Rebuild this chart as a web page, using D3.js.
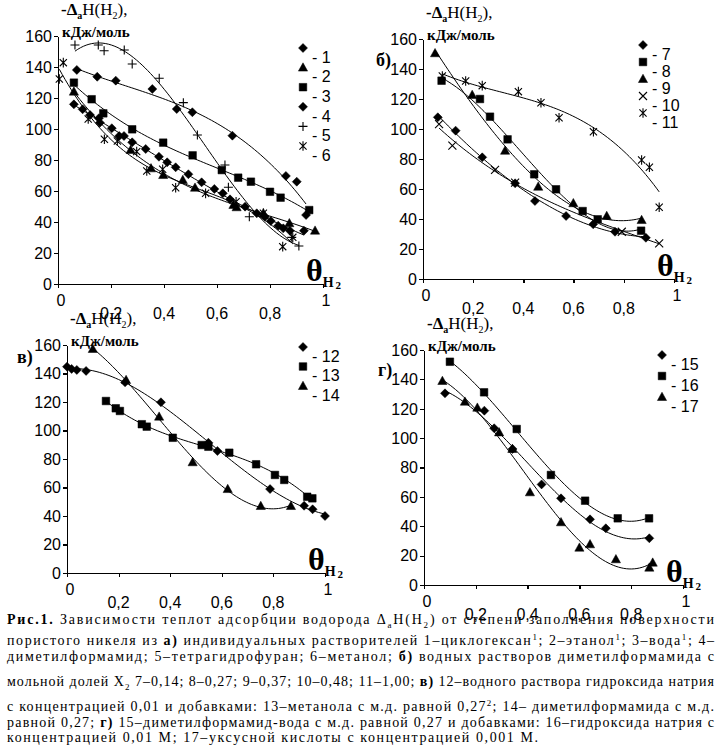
<!DOCTYPE html>
<html lang="ru">
<head>
<meta charset="UTF-8">
<title>Рис.1</title>
<script src="https://d3js.org/d3.v7.min.js"></script>
<style>
  body { margin: 0; background: #fff; }
  svg { display: block; }
  .tick-lbl { font-family: "Liberation Sans Narrow", "Liberation Sans", Arial, sans-serif; font-size: 16px; fill: #000; }
  .serif { font-family: "Liberation Serif", "Times New Roman", serif; fill: #000; }
  .trend { fill: none; stroke: #000; stroke-width: 1; }
  .axis line, .axis path { stroke: #000; stroke-width: 1.2; shape-rendering: crispEdges; }
</style>
</head>
<body>
<svg width="721" height="755" viewBox="0 0 721 755"></svg>
<script>
// ---- data: [theta, -dH kJ/mol] ----
const xTicks = [0, 0.2, 0.4, 0.6, 0.8, 1];
const xTickLabels = ["0", "0,2", "0,4", "0,6", "0,8", "1"];
const yTicks = [0, 20, 40, 60, 80, 100, 120, 140, 160];

// panel a
const s1 = [[0.060,115.9],[0.093,112.7],[0.121,109.0],[0.154,106.9],[0.158,104.1],[0.203,100.5],[0.231,95.5],[0.249,95.5],[0.280,91.4],[0.331,87.1],[0.381,82.1],[0.412,78.5],[0.444,75.3],[0.492,70.8],[0.542,65.6],[0.590,61.3],[0.622,58.5],[0.649,54.6],[0.706,49.9],[0.750,45.6],[0.781,43.4],[0.803,40.6],[0.831,37.6],[0.850,35.9],[0.875,34.4],[0.928,34.4]];
const s2 = [[0.060,124.1],[0.274,86.5],[0.351,74.6],[0.397,70.3],[0.471,67.1],[0.517,62.1],[0.662,51.0],[0.674,49.5],[0.775,45.6],[0.873,39.2],[0.970,34.4]];
const s3 = [[0.060,129.9],[0.127,119.2],[0.171,110.1],[0.280,99.8],[0.397,91.2],[0.508,83.0],[0.618,73.5],[0.680,68.6],[0.728,66.0],[0.800,59.5],[0.840,55.7],[0.948,47.7]];
const s4 = [[0.071,138.1],[0.148,133.7],[0.218,131.2],[0.356,125.8],[0.448,112.9],[0.507,110.8],[0.658,95.7],[0.860,69.7],[0.901,66.0],[0.936,44.5]];
const s5 = [[0.064,154.2],[0.152,154.2],[0.174,150.5],[0.250,151.0],[0.280,141.9],[0.382,132.7],[0.473,117.0],[0.526,96.1],[0.630,76.8],[0.643,62.4],[0.722,43.4],[0.882,30.1],[0.909,24.5]];
const s6 = [[0.020,142.8],[0.005,132.3],[0.114,106.5],[0.175,93.4],[0.224,92.3],[0.297,85.4],[0.335,72.9],[0.395,74.0],[0.444,62.1],[0.557,58.5],[0.672,53.1],[0.775,45.6],[0.848,24.1],[0.886,30.1]];
// panel b
const s7 = [[0.059,107.8],[0.130,98.9],[0.236,81.1],[0.367,63.8],[0.446,52.0],[0.570,42.0],[0.678,36.5],[0.765,31.5],[0.888,27.5]];
const s8 = [[0.074,132.2],[0.227,120.0],[0.267,108.2],[0.337,93.1],[0.443,69.8],[0.530,59.8],[0.636,45.3],[0.696,39.8],[0.869,32.2]];
const s9 = [[0.048,150.5],[0.196,122.7],[0.327,85.5],[0.459,61.5],[0.599,50.5],[0.732,42.0],[0.871,39.3]];
const s10 = [[0.064,103.3],[0.117,88.9],[0.287,72.7],[0.367,64.2],[0.792,31.5],[0.941,23.8]];
const s11 = [[0.077,135.3],[0.170,132.0],[0.236,128.9],[0.380,124.9],[0.470,117.5],[0.542,107.5],[0.679,98.2],[0.871,79.3],[0.902,74.5],[0.941,47.8]];
// panel c
const s12 = [[0.000,144.8],[0.018,143.2],[0.038,142.5],[0.074,141.8],[0.225,133.8],[0.364,119.8],[0.548,91.4],[0.583,85.6],[0.787,58.9],[0.919,47.2],[0.952,44.7],[1.000,40.0]];
const s13 = [[0.151,120.7],[0.189,115.6],[0.205,113.7],[0.290,104.4],[0.309,102.7],[0.410,94.9],[0.522,89.8],[0.548,88.6],[0.629,84.4],[0.733,76.3],[0.806,68.8],[0.842,65.3],[0.931,53.5],[0.951,52.4]];
const s14 = [[0.100,157.2],[0.229,135.4],[0.357,109.7],[0.487,77.7],[0.623,58.9],[0.751,47.0],[0.868,47.0]];
// panel d
const s15 = [[0.081,130.5],[0.233,118.7],[0.271,106.7],[0.342,92.6],[0.454,68.5],[0.529,59.0],[0.641,44.7],[0.702,38.6],[0.870,31.8]];
const s16 = [[0.100,152.0],[0.232,131.2],[0.358,106.2],[0.490,74.9],[0.622,57.4],[0.748,45.4],[0.869,45.4]];
const s17 = [[0.071,138.9],[0.158,124.8],[0.206,120.7],[0.290,103.9],[0.341,92.6],[0.409,63.1],[0.529,42.7],[0.600,25.4],[0.641,27.7],[0.741,17.5],[0.870,11.8],[0.883,15.2]];

const captionLines = [
  [["Рис.1.","b"],[" Зависимости теплот адсорбции водорода Δ"],["a","sub"],["H(H"],["2","sub"],[") от степени заполнения поверхности"]],
  [["пористого никеля из "],["а)","b"],[" индивидуальных растворителей 1–циклогексан"],["1","sup"],["; 2–этанол"],["1","sup"],["; 3–вода"],["1","sup"],["; 4–"]],
  [["диметилформамид; 5–тетрагидрофуран; 6–метанол; "],["б)","b"],[" водных растворов диметилформамида с"]],
  [["мольной долей X"],["2","sub"],[" 7–0,14; 8–0,27; 9–0,37; 10–0,48; 11–1,00; "],["в)","b"],[" 12–водного раствора гидроксида натрия"]],
  [["с концентрацией 0,01 и добавками: 13–метанола с м.д. равной 0,27"],["2","sup"],["; 14– диметилформамида с м.д."]],
  [["равной 0,27; "],["г)","b"],[" 15–диметилформамид-вода с м.д. равной 0,27 и добавками: 16–гидроксида натрия с"]],
  [["концентрацией 0,01 М; 17–уксусной кислоты с концентрацией 0,001 М."]]
];

// ---- layout ----
const svg = d3.select("svg");
svg.append("rect").attr("width", 721).attr("height", 755).attr("fill", "#fff");

const panels = [
  {letter: null, x0: 58,  x1: 323, y0: 284, y1: 36,  series: [[s1,"diamond","1"],[s2,"triangle","2"],[s3,"square","3"],[s4,"diamond","4"],[s5,"plus","5"],[s6,"star","6"]], leg: {x: 303, y: 48, step: 19.6}},
  {letter: "б)", lx: 376, ly: 66, x0: 423, x1: 674, y0: 279, y1: 39, series: [[s7,"diamond","7"],[s8,"square","8"],[s9,"triangle","9"],[s10,"cross","10"],[s11,"star","11"]], leg: {x: 643, y: 45, step: 17}},
  {letter: "в)", lx: 17, ly: 363, x0: 67, x1: 325, y0: 573, y1: 345, series: [[s12,"diamond","12"],[s13,"square","13"],[s14,"triangle","14"]], leg: {x: 303, y: 347, step: 19.5}},
  {letter: "г)", lx: 378, ly: 376, x0: 424, x1: 683, y0: 585, y1: 350, series: [[s15,"diamond","15"],[s16,"square","16"],[s17,"triangle","17"]], leg: {x: 662, y: 355, step: 21}}
];

function markerPath(type) {
  switch (type) {
    case "diamond": return "M0,-4.5L4.5,0L0,4.5L-4.5,0Z";
    case "square": return "M-3.8,-3.8H3.8V3.8H-3.8Z";
    case "triangle": return "M0,-4.8L4.6,3.5H-4.6Z";
    case "plus": return "M-4.5,0H4.5M0,-4.5V4.5";
    case "cross": return "M-4,-4L4,4M-4,4L4,-4";
    case "star": return "M-3.6,-3.6L3.6,3.6M-3.6,3.6L3.6,-3.6M0,-4.8V4.8";
  }
}
function drawMarker(g, type, x, y) {
  const filled = ["diamond","square","triangle"].includes(type);
  g.append("path").attr("d", markerPath(type))
    .attr("transform", `translate(${x},${y})`)
    .attr("fill", filled ? "#000" : "none")
    .attr("stroke", "#000").attr("stroke-width", filled ? 0.5 : 1.1);
}

// least squares cubic (like spreadsheet polynomial trendline)
function polyfit(pts, deg) {
  const n = deg + 1;
  const A = Array.from({length: n}, () => new Array(n + 1).fill(0));
  pts.forEach(([x, y]) => {
    for (let i = 0; i < n; i++) {
      for (let j = 0; j < n; j++) A[i][j] += Math.pow(x, i + j);
      A[i][n] += y * Math.pow(x, i);
    }
  });
  for (let i = 0; i < n; i++) {
    let p = i;
    for (let k = i + 1; k < n; k++) if (Math.abs(A[k][i]) > Math.abs(A[p][i])) p = k;
    [A[i], A[p]] = [A[p], A[i]];
    for (let k = i + 1; k < n; k++) {
      const f = A[k][i] / A[i][i];
      for (let j = i; j <= n; j++) A[k][j] -= f * A[i][j];
    }
  }
  const c = new Array(n).fill(0);
  for (let i = n - 1; i >= 0; i--) {
    let s = A[i][n];
    for (let j = i + 1; j < n; j++) s -= A[i][j] * c[j];
    c[i] = s / A[i][i];
  }
  return c;
}

panels.forEach(p => {
  const x = d3.scaleLinear().domain([0, 1]).range([p.x0, p.x1]);
  const y = d3.scaleLinear().domain([0, 160]).range([p.y0, p.y1]);
  const g = svg.append("g");

  // axes
  g.append("g").attr("class", "axis").attr("transform", `translate(${p.x0},0)`)
    .call(d3.axisLeft(y).tickValues(yTicks).tickSize(4).tickSizeOuter(0).tickFormat(""));
  g.append("g").attr("class", "axis").attr("transform", `translate(0,${p.y0})`)
    .call(d3.axisBottom(x).tickValues(xTicks).tickSize(4).tickSizeOuter(0).tickFormat(""));

  yTicks.forEach(t => {
    g.append("text").attr("class", "tick-lbl").attr("x", p.x0 - 6).attr("y", y(t))
      .attr("dy", "0.36em").attr("text-anchor", "end").text(t);
  });
  xTicks.forEach((t, i) => {
    const edge = i === 0 || i === xTicks.length - 1;
    g.append("text").attr("class", "tick-lbl").attr("x", x(t) + (edge ? 3 : 0)).attr("y", p.y0 + (edge ? 16 : 29))
      .attr("dy", "0.36em").attr("text-anchor", "middle").text(xTickLabels[i]);
  });

  // axis title
  const t1 = g.append("text").attr("class", "serif").attr("x", p.x0 + 3).attr("y", p.y1 - 21).attr("font-size", 17);
  t1.append("tspan").attr("font-weight", "bold").text("-Δ");
  t1.append("tspan").attr("font-weight", "bold").attr("font-size", 10).attr("dy", 4).text("a");
  t1.append("tspan").attr("dy", -4).text("H(H");
  t1.append("tspan").attr("font-size", 10).attr("dy", 4).text("2");
  t1.append("tspan").attr("dy", -4).text("),");
  g.append("text").attr("class", "serif").attr("x", p.x0 + 4).attr("y", p.y1 + 1)
    .attr("font-size", 15).attr("font-weight", "bold").text("кДж/моль");

  // theta label
  const th = g.append("text").attr("class", "serif").attr("x", p.x1 - 17).attr("y", p.y0 - 3)
    .attr("font-weight", "bold");
  th.append("tspan").attr("font-size", 32).text("θ");
  th.append("tspan").attr("font-size", 14).attr("dy", 6).text("H");
  th.append("tspan").attr("font-size", 11).attr("dx", 2).attr("dy", 2).text("2");

  if (p.letter) {
    g.append("text").attr("class", "serif").attr("x", p.lx).attr("y", p.ly)
      .attr("font-size", 18).attr("font-weight", "bold").text(p.letter);
  }

  // trend lines + points
  const line = d3.line().x(d => x(d[0])).y(d => y(d[1]));
  p.series.forEach(([data]) => {
    const c = polyfit(data, 3);
    const [lo, hi] = d3.extent(data, d => d[0]);
    const pts = d3.range(0, 81).map(i => {
      const xv = lo + (hi - lo) * i / 80;
      return [xv, c[0] + c[1] * xv + c[2] * xv * xv + c[3] * xv * xv * xv];
    });
    g.append("path").attr("class", "trend").attr("d", line(pts));
  });
  p.series.forEach(([data, type]) => {
    data.forEach(d => drawMarker(g, type, x(d[0]), y(d[1])));
  });

  // legend
  p.series.forEach(([data, type, name], i) => {
    const ly = p.leg.y + i * p.leg.step;
    drawMarker(g, type, p.leg.x, ly);
    g.append("text").attr("class", "tick-lbl").attr("x", p.leg.x + 9).attr("y", ly + 9)
      .attr("dy", "0.36em").text("- " + name);
  });
});

// caption
const capY = [624, 645, 661, 686, 711, 727, 742];
captionLines.forEach((segs, i) => {
  const t = svg.append("text").attr("class", "serif").attr("x", 7).attr("y", capY[i])
    .attr("font-size", 14).attr("textLength", i === captionLines.length - 1 ? 531 : 707)
    .attr("lengthAdjust", "spacing");
  let shift = 0;
  segs.forEach(([txt, st]) => {
    const ts = t.append("tspan").text(txt);
    let want = 0;
    if (st === "b") ts.attr("font-weight", "bold");
    if (st === "sub") { ts.attr("font-size", 9); want = 4; }
    if (st === "sup") { ts.attr("font-size", 9); want = -5; }
    if (want !== shift) { ts.attr("dy", want - shift); shift = want; }
  });
});
</script>
</body>
</html>
